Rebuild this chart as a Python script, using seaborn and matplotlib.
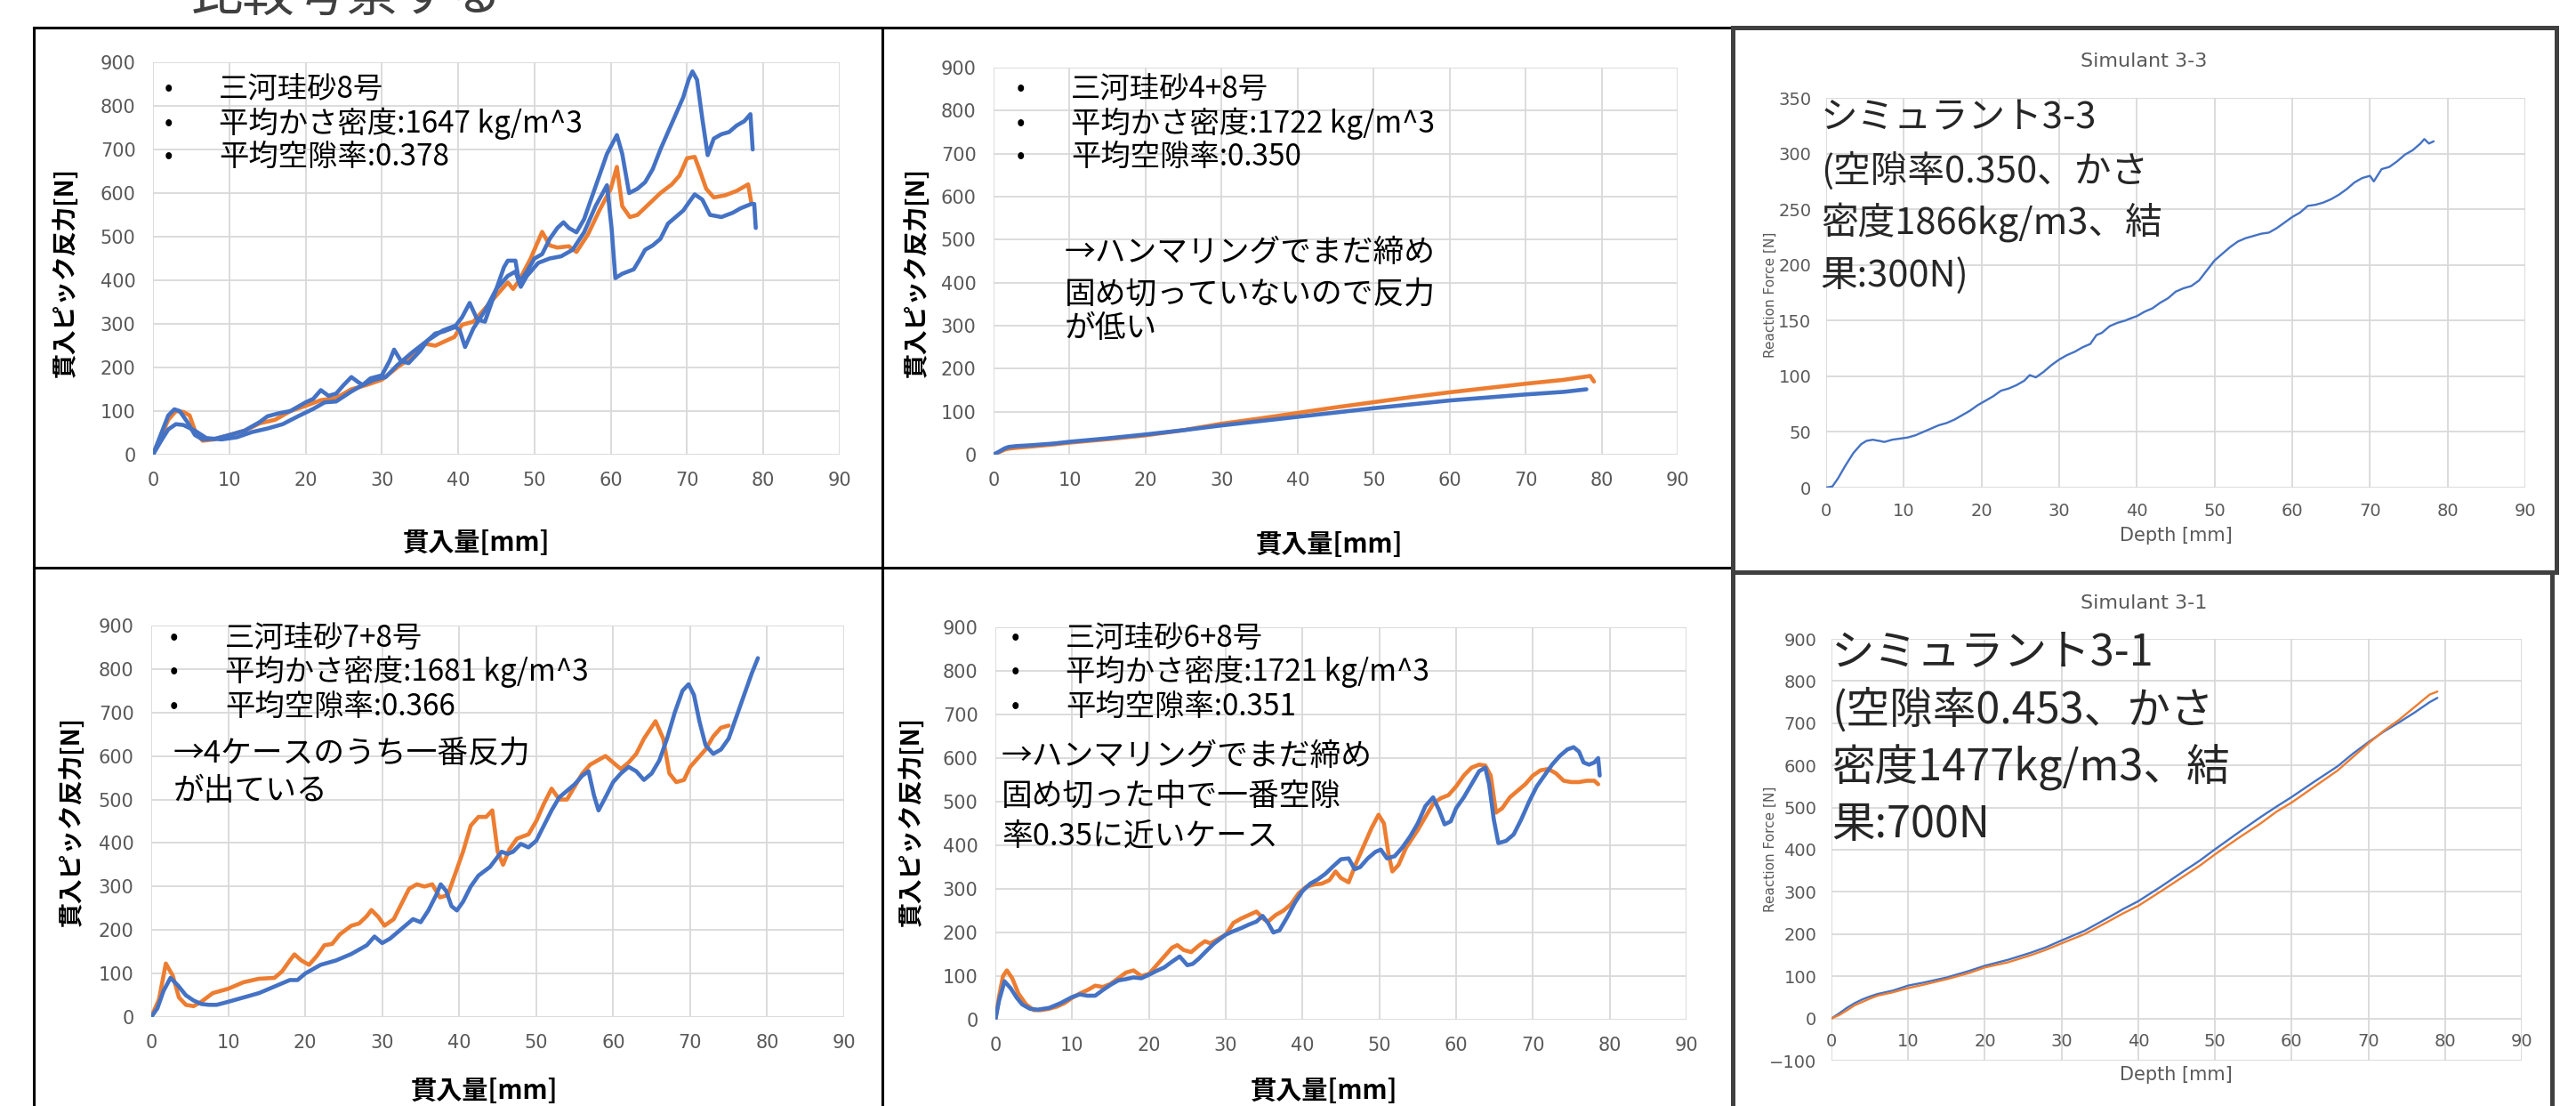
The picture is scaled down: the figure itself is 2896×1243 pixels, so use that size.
import matplotlib
matplotlib.use("Agg")
import matplotlib.pyplot as plt
import seaborn as sns
from matplotlib.lines import Line2D

W, H = 2896, 1243
BLUE = "#4472C4"
ORANGE = "#ED7D31"
GRID = "#D9D9D9"
TICK = "#595959"
NARROW = ["Liberation Sans Narrow", "DejaVu Sans"]

# ---- data ----
# 三河珪砂8号
p1_blue_a_x = [0, 1, 2, 2.8, 3.5, 4.5, 5.5, 6.5, 8, 10, 12, 14, 15, 16.5, 18, 20, 21, 22, 23, 24, 25, 26, 27, 27.5,
               28.5, 30, 31, 31.6, 32.5, 33.5, 35, 36, 37, 38, 39.5, 40.5, 41.5, 42.5, 43.5, 45, 46, 46.5, 47.5, 48,
               49, 50, 51, 52, 53, 53.8, 54.5, 55.5, 56.5, 57.5, 58.5, 59.5, 60.8, 61.5, 62.4, 63.5, 64.5, 65.5,
               66.5, 67.5, 68.5, 69.5, 70.2, 70.7, 71.3, 72, 72.7, 73.5, 74.5, 75.5, 76.5, 77.5, 78.3, 78.6]
p1_blue_a_y = [0, 45, 90, 104, 100, 75, 45, 35, 36, 45, 55, 75, 88, 95, 100, 120, 128, 148, 135, 140, 160, 178, 165,
               160, 175, 182, 215, 241, 215, 210, 238, 262, 278, 282, 292, 315, 348, 310, 305, 380, 430, 445, 445,
               395, 420, 450, 460, 495, 520, 533, 520, 510, 540, 590, 640, 690, 733, 690, 600, 610, 625, 655, 700,
               740, 780, 820, 860, 879, 860, 770, 687, 725, 735, 740, 755, 765, 781, 700]
p1_blue_b_x = [0, 1, 2, 3, 4, 5.5, 7, 9, 11, 13, 15, 17, 19, 21, 22.5, 24, 26, 27.5, 29, 30.5, 32, 34, 36, 38, 39.5,
               40.2, 40.9, 42, 43.5, 45, 46.5, 47.5, 48.2, 49, 50.5, 52, 53.5, 55, 56.5, 58, 59.5, 60.1, 60.6, 61.5,
               63, 63.7, 64.5, 65.5, 66.5, 67.5, 68.5, 69.5, 70.5, 71, 72, 73, 74.5, 76, 77, 78.4, 78.8, 79]
p1_blue_b_y = [0, 30, 58, 70, 68, 55, 38, 35, 40, 52, 60, 70, 88, 105, 120, 122, 145, 160, 172, 178, 205, 235, 262,
               285, 295, 285, 247, 290, 330, 380, 410, 420, 385, 410, 440, 450, 455, 470, 510, 570, 618, 520, 405,
               415, 425, 445, 470, 480, 495, 530, 545, 560, 585, 597, 585, 550, 545, 555, 565, 575, 575, 520]
p1_orange_x = [0, 1, 2, 3, 4, 4.8, 5.5, 6.5, 8, 10, 12, 14, 16, 18, 20, 22, 24, 26, 28, 30, 32, 34, 35.5, 37, 38.5,
               39.5, 40.5, 42, 43.5, 45, 46.5, 47.2, 48, 49.5, 51, 52, 53, 54.5, 55.5, 57, 58.5, 60, 60.8, 61.5,
               62.5, 63.5, 65, 66.5, 68, 69, 70, 71, 71.7, 72.5, 73.5, 75, 76.5, 78, 78.4]
p1_orange_y = [0, 40, 80, 100, 98, 90, 55, 32, 35, 45, 55, 72, 80, 100, 112, 125, 130, 150, 160, 172, 200, 225, 255,
               250, 262, 270, 298, 305, 335, 365, 395, 380, 400, 450, 511, 480, 475, 478, 465, 505, 560, 610, 660,
               570, 545, 550, 575, 600, 620, 640, 680, 683, 650, 610, 590, 595, 605, 620, 580]

# 三河珪砂4+8号
p2_blue_x = [0, 0.5, 1, 1.5, 2, 3, 5, 8, 10, 15, 20, 25, 30, 35, 40, 45, 50, 55, 60, 65, 70, 75, 78]
p2_blue_y = [0, 5, 10, 15, 18, 20, 22, 26, 30, 38, 47, 57, 68, 78, 88, 98, 108, 117, 126, 133, 140, 146, 152]
p2_orange_x = [0, 0.5, 1, 1.5, 2, 3, 5, 8, 10, 15, 20, 25, 30, 35, 40, 45, 50, 55, 60, 65, 70, 75, 78.5, 79]
p2_orange_y = [0, 4, 8, 12, 14, 16, 19, 24, 28, 36, 45, 57, 72, 84, 97, 110, 122, 134, 145, 155, 165, 174, 183, 170]

# Simulant 3-3
p3_x = [0, 0.8, 1.5, 2.5, 3.5, 4.5, 5.2, 6, 6.8, 7.5, 8.5, 9.5, 10.5, 11.5, 12.5, 13.5, 14.5, 15.5, 16.5, 17.5,
        18.5, 19.5, 20.5, 21.5, 22.5, 23.5, 24.5, 25.5, 26.2, 27, 28, 29, 30, 31, 32, 33, 34, 34.8, 35.5, 36.5,
        37.5, 38.5, 39.2, 40, 41, 42, 43, 44, 45, 46, 47, 48, 49, 50, 51, 52, 53, 54, 55, 56, 57, 58, 59, 60,
        61, 62, 63, 64, 65, 66, 67, 68, 69, 70, 70.5, 71.5, 72.5, 73.5, 74.5, 75.5, 76.5, 77, 77.6, 78.2]
p3_y = [0, 1, 8, 20, 31, 39, 42, 43, 42, 41, 43, 44, 45, 47, 50, 53, 56, 58, 61, 65, 69, 74, 78, 82, 87, 89, 92,
        96, 101, 99, 104, 110, 115, 119, 122, 126, 129, 137, 139, 145, 148, 150, 152, 154, 158, 161, 166, 170,
        176, 179, 181, 186, 195, 204, 210, 216, 221, 224, 226, 228, 229, 233, 238, 243, 247, 253, 254, 256, 259,
        263, 268, 274, 278, 280, 275, 286, 288, 293, 299, 303, 309, 313, 309, 311]

# 三河珪砂7+8号
p4_orange_x = [0, 1, 1.9, 2.8, 3.6, 4.5, 5.5, 6.5, 8, 10, 12, 14, 16, 17, 18, 18.6, 19.5, 20.5, 21.5, 22.5, 23.5,
               24.5, 26, 27, 28, 28.6, 29.5, 30.3, 31.5, 32.5, 33.5, 34.5, 35.5, 36.5, 37.5, 38.5, 39.5, 40.5,
               41.5, 42.5, 43.5, 44.3, 45, 45.7, 46.5, 47.5, 49, 50, 51, 52, 53, 54, 55, 56, 57, 58, 59, 60, 61,
               62, 63, 64, 65.5, 66.5, 67.3, 68.2, 69.2, 70, 71, 72, 73, 74, 75]
p4_orange_y = [0, 40, 123, 95, 45, 28, 25, 35, 55, 65, 80, 88, 90, 105, 130, 144, 130, 120, 140, 165, 168, 190,
               210, 215, 232, 246, 230, 210, 225, 260, 295, 305, 300, 305, 275, 280, 330, 380, 440, 460, 460, 475,
               380, 350, 385, 410, 420, 450, 490, 525, 500, 500, 530, 560, 580, 590, 600, 585, 570, 585, 605, 640,
               680, 640, 560, 540, 545, 575, 595, 615, 645, 665, 670]
p4_blue_x = [0, 0.8, 1.6, 2.5, 3.5, 4.5, 5.5, 6.5, 7.5, 8.5, 10, 12, 14, 16, 18, 19, 20, 22, 24, 26, 28, 29, 30,
             31, 32, 33, 34, 35, 36, 37, 37.6, 38.3, 39, 39.7, 40.5, 41.5, 42.5, 44, 45.5, 46.3, 47, 48, 49, 50,
             51, 52, 53, 54, 55, 56, 56.8, 57.5, 58.1, 59, 60, 61, 62, 63, 64, 65, 66, 67, 68, 69, 69.8, 70.5,
             71.2, 72, 73, 74, 75, 76, 77, 78, 78.8]
p4_blue_y = [0, 20, 60, 90, 72, 50, 38, 30, 28, 28, 35, 45, 55, 70, 85, 85, 100, 120, 130, 145, 165, 185, 170,
             180, 195, 210, 225, 218, 245, 280, 305, 290, 255, 245, 265, 300, 325, 345, 380, 375, 380, 398, 390,
             405, 440, 475, 505, 520, 535, 555, 565, 510, 475, 505, 540, 560, 575, 565, 545, 560, 590, 640, 700,
             750, 765, 740, 680, 625, 605, 615, 640, 690, 740, 790, 825]

# 三河珪砂6+8号
p5_orange_x = [0, 0.5, 1, 1.5, 2.2, 3, 4, 5, 6, 7, 8, 9, 10, 11, 12, 13, 14, 15, 16, 17, 18, 19, 20, 21, 22, 23,
               23.7, 24.5, 25.5, 26.5, 27.3, 28, 29, 30, 31, 32, 33, 34, 35, 35.5, 36.5, 37.5, 38.5, 39.5, 40.5,
               41.5, 42.5, 43.5, 44.3, 45, 46, 47, 48, 49, 49.9, 50.6, 51.2, 51.7, 52.5, 53.5, 55, 56, 57, 58,
               59, 60, 61, 62, 63, 63.8, 64.5, 65.2, 66, 67, 68, 69, 70, 71, 72, 73, 74, 75, 76, 77, 78, 78.5]
p5_orange_y = [0, 55, 100, 113, 95, 60, 35, 22, 22, 25, 30, 38, 50, 60, 68, 78, 75, 82, 95, 108, 113, 100, 105,
               125, 145, 165, 171, 160, 155, 170, 180, 175, 185, 195, 222, 232, 240, 248, 230, 225, 240, 250, 265,
               290, 305, 310, 312, 320, 340, 325, 315, 360, 400, 440, 470, 450, 380, 340, 355, 395, 435, 465, 495,
               508, 515, 535, 560, 578, 585, 583, 560, 475, 485, 510, 525, 540, 560, 572, 575, 565, 548, 545, 545,
               548, 548, 540]
p5_blue_x = [0, 0.5, 1.2, 2, 2.8, 3.5, 4.5, 5.5, 7, 8.5, 10, 11, 12, 13, 14, 15, 16, 17, 18, 19, 20, 21, 22, 23,
             24, 25, 25.7, 26.5, 27.5, 28.5, 30, 31, 32, 33, 34, 34.8, 35.5, 36.2, 37, 38, 39, 40, 41, 42, 43, 44,
             45, 46, 46.8, 47.5, 48.5, 49.5, 50.2, 51, 52, 53, 54, 55, 56, 57, 57.8, 58.5, 59.3, 60, 61, 62, 63,
             63.8, 64.3, 64.9, 65.5, 66.5, 67.5, 68.5, 69.5, 70.5, 71.5, 72.5, 73.5, 74.5, 75.3, 76, 76.6, 77.3,
             78, 78.5, 78.7]
p5_blue_y = [0, 45, 88, 72, 50, 35, 25, 23, 27, 38, 52, 58, 55, 55, 68, 80, 90, 93, 97, 95, 103, 112, 120, 133,
             145, 125, 128, 140, 158, 175, 195, 203, 210, 218, 225, 238, 222, 200, 205, 235, 268, 295, 312, 322,
             335, 352, 368, 370, 345, 350, 370, 385, 390, 370, 375, 395, 420, 450, 490, 510, 480, 448, 455, 485,
             510, 540, 570, 578, 540, 460, 405, 410, 425, 460, 500, 535, 560, 585, 605, 620, 625, 615, 590, 585,
             590, 600, 560]

# Simulant 3-1
p6_x = [0, 1, 2, 3, 4, 5, 6, 8, 10, 12, 15, 18, 20, 23, 26, 28, 30, 33, 36, 38, 40, 43, 46, 48, 50, 53, 56, 58,
        60, 63, 66, 68, 70, 72, 74, 76, 78, 79]
p6_blue_y = [0, 12, 25, 36, 45, 52, 58, 66, 78, 85, 97, 113, 125, 139, 156, 169, 185, 208, 238, 259, 278, 313,
             350, 374, 401, 440, 478, 502, 525, 562, 598, 628, 655, 680, 702, 725, 750, 760]
p6_orange_y = [0, 8, 19, 31, 39, 47, 54, 62, 72, 80, 93, 108, 121, 133, 150, 163, 178, 200, 229, 249, 267, 302,
               338, 362, 389, 427, 463, 490, 512, 550, 588, 620, 652, 682, 708, 738, 768, 775]

# ---- figure ----
sns.set_style("white")
plt.rcParams["font.family"] = ["Noto Sans CJK JP", "DejaVu Sans"]
fig = plt.figure(figsize=(W / 100, H / 100), dpi=100)
fig.patch.set_facecolor("white")


def axes_px(x0, x1, ytop, ybot):
    return fig.add_axes([x0 / W, 1 - ybot / H, (x1 - x0) / W, (ybot - ytop) / H])


def text_px(x, y, s, **kw):
    return fig.text(x / W, 1 - y / H, s, **kw)


def line_px(xs, ys, color, lw):
    fig.add_artist(Line2D([x / W for x in xs], [1 - y / H for y in ys], color=color,
                          linewidth=lw, transform=fig.transFigure, solid_capstyle="projecting"))


def style(ax, ylim, ystep, size, xpad, ypad):
    ax.set_xlim(0, 90)
    ax.set_ylim(*ylim)
    ax.set_xticks(range(0, 91, 10))
    ax.set_yticks(range(ylim[0], ylim[1] + 1, ystep))
    ax.grid(True, color=GRID, linewidth=1.3)
    ax.set_axisbelow(True)
    for s in ax.spines.values():
        s.set_visible(False)
    ax.tick_params(axis="both", length=0, labelsize=size, labelcolor=TICK, labelfontfamily=NARROW)
    ax.tick_params(axis="x", pad=xpad)
    ax.tick_params(axis="y", pad=ypad)
    ax.set_xlabel("")
    ax.set_ylabel("")


def draw(ax, xs, ys, color, lw):
    sns.lineplot(x=xs, y=ys, ax=ax, color=color, linewidth=lw, sort=False, estimator=None, legend=False)


def bullets(xb, xt, ys, lines):
    for y, s in zip(ys, lines):
        text_px(xb, y, "•", fontsize=20, va="center", ha="center", color="black")
        text_px(xt, y, s, fontsize=24, va="center", color="black")


def note(x, ys, lines, size, color="black"):
    for y, s in zip(ys, lines):
        text_px(x, y, s, fontsize=size, va="center", color=color)


# panel 1
ax1 = axes_px(172, 944, 70, 511)
draw(ax1, p1_orange_x, p1_orange_y, ORANGE, 3.3)
draw(ax1, p1_blue_b_x, p1_blue_b_y, BLUE, 3.3)
draw(ax1, p1_blue_a_x, p1_blue_a_y, BLUE, 3.3)
style(ax1, (0, 900), 100, 15, 14, 14)

# panel 2
ax2 = axes_px(1117, 1886, 76, 511)
draw(ax2, p2_orange_x, p2_orange_y, ORANGE, 3.3)
draw(ax2, p2_blue_x, p2_blue_y, BLUE, 3.3)
style(ax2, (0, 900), 100, 15, 14, 14)

# panel 3
ax3 = axes_px(2053, 2839, 110, 548)
draw(ax3, p3_x, p3_y, BLUE, 1.7)
style(ax3, (0, 350), 50, 14, 12, 12)

# panel 4
ax4 = axes_px(170, 949, 703, 1143)
draw(ax4, p4_orange_x, p4_orange_y, ORANGE, 3.3)
draw(ax4, p4_blue_x, p4_blue_y, BLUE, 3.3)
style(ax4, (0, 900), 100, 15, 14, 14)

# panel 5
ax5 = axes_px(1119, 1896, 705, 1146)
draw(ax5, p5_orange_x, p5_orange_y, ORANGE, 3.3)
draw(ax5, p5_blue_x, p5_blue_y, BLUE, 3.3)
style(ax5, (0, 900), 100, 15, 14, 14)

# panel 6
ax6 = axes_px(2059, 2835, 718, 1192)
draw(ax6, p6_x, p6_blue_y, BLUE, 1.7)
draw(ax6, p6_x, p6_orange_y, ORANGE, 1.7)
style(ax6, (-100, 900), 100, 14, 12, 12)
ax6.spines["bottom"].set_position(("data", 0))

# axis titles
for x, y in [(73, 306), (1030, 306), (80, 923), (1024, 923)]:
    text_px(x, y, "貫入ピック反力[N]", fontsize=20, fontweight="bold", rotation=90,
            ha="center", va="center", color="black")
for x, y in [(536, 610), (1495, 612), (545, 1226), (1489, 1226)]:
    text_px(x, y, "貫入量[mm]", fontsize=21, fontweight="bold", ha="center", va="center", color="black")

for yt, yd, yr, title in [(69, 602, 331, "Simulant 3-3"), (678, 1208, 954, "Simulant 3-1")]:
    text_px(2410, yt, title, fontsize=16, family=NARROW, color=TICK, ha="center", va="center")
    text_px(2446, yd, "Depth [mm]", fontsize=15, family=NARROW, color=TICK, ha="center", va="center")
    text_px(1990, yr, "Reaction Force [N]", fontsize=11, family=["DejaVu Sans"], color=TICK,
            rotation=90, ha="center", va="center")

# bullet lists
bullets(189, 246, [100, 139, 176], ["三河珪砂8号", "平均かさ密度:1647 kg/m^3", "平均空隙率:0.378"])
bullets(1148, 1204, [100, 139, 176], ["三河珪砂4+8号", "平均かさ密度:1722 kg/m^3", "平均空隙率:0.350"])
bullets(196, 253, [717, 755, 794], ["三河珪砂7+8号", "平均かさ密度:1681 kg/m^3", "平均空隙率:0.366"])
bullets(1142, 1198, [717, 755, 794], ["三河珪砂6+8号", "平均かさ密度:1721 kg/m^3", "平均空隙率:0.351"])

# comments
note(1197, [284, 331, 369], ["→ハンマリングでまだ締め", "固め切っていないので反力", "が低い"], 25)
note(195, [847, 890], ["→4ケースのうち一番反力", "が出ている"], 25)
note(1126, [850, 895, 940], ["→ハンマリングでまだ締め", "固め切った中で一番空隙", "率0.35に近いケース"], 25)
note(2047, [133, 192, 250, 310], ["シミュラント3-3", "(空隙率0.350、かさ", "密度1866kg/m3、結", "果:300N)"],
     30, "#262626")
note(2059, [734, 798, 863, 927], ["シミュラント3-1", "(空隙率0.453、かさ", "密度1477kg/m3、結", "果:700N"],
     35, "#262626")

# slide heading (cut off at the top edge, as on the slide)
text_px(215, 26, "比較考察する", fontsize=42, color="#404040", va="bottom")

# frames
line_px([38, 38], [31, 1243], "black", 2.2)
line_px([38, 1947], [31, 31], "black", 2.2)
line_px([992, 992], [31, 1243], "black", 2.2)
line_px([38, 1947], [638, 638], "black", 2.2)
line_px([1948, 1948], [31, 1243], "#404040", 3.6)
line_px([1948, 2874], [31, 31], "#404040", 3.6)
line_px([2874, 2874], [31, 643], "#404040", 3.6)
line_px([1948, 2874], [643, 643], "#404040", 3.6)
line_px([2869, 2869], [643, 1243], "#404040", 3.6)

fig.savefig("out.png", dpi=100, facecolor="white")
